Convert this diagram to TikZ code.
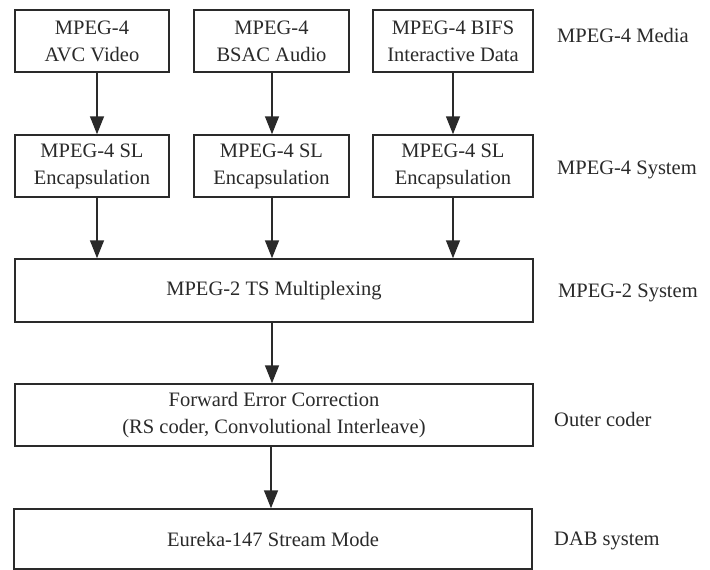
\documentclass[tikz,border=0pt]{standalone}
\usepackage{fontspec}
\setmainfont{Liberation Serif}
\usetikzlibrary{arrows.meta}
\definecolor{ink}{HTML}{2A2A2A}
\begin{document}
\begin{tikzpicture}[x=1pt,y=-1pt,
  blk/.style={draw=ink,line width=1.5pt,rectangle,inner sep=0pt,align=center,
    text=ink,font=\fontsize{20.5}{27}\selectfont},
  lbl/.style={anchor=west,inner sep=0pt,text=ink,font=\fontsize{20.5}{27}\selectfont},
  arr/.style={draw=ink,line width=1.5pt,-{Triangle[width=14pt,length=18pt]}}]
\useasboundingbox[fill=white] (0,0) rectangle (710,570);
% top row
\node[blk,minimum width=154pt,minimum height=62pt] (v) at (92,41) {MPEG-4\\AVC Video};
\node[blk,minimum width=155pt,minimum height=62pt] (a) at (271.5,41) {MPEG-4\\BSAC Audio};
\node[blk,minimum width=160pt,minimum height=62pt] (d) at (453,41) {MPEG-4 BIFS\\Interactive Data};
% SL row
\node[blk,minimum width=154pt,minimum height=62pt] (s1) at (92,166) {MPEG-4 SL\\Encapsulation};
\node[blk,minimum width=155pt,minimum height=62pt] (s2) at (271.5,166) {MPEG-4 SL\\Encapsulation};
\node[blk,minimum width=160pt,minimum height=62pt] (s3) at (453,166) {MPEG-4 SL\\Encapsulation};
% wide boxes
\node[blk,minimum width=518pt,minimum height=63pt] (mux) at (274,290.5) {MPEG-2 TS Multiplexing};
\node[blk,minimum width=518pt,minimum height=62pt] (fec) at (274,415) {Forward Error Correction\\(RS coder, Convolutional Interleave)};
\node[blk,minimum width=518pt,minimum height=60pt] (dab) at (273,539) {Eureka-147 Stream Mode};
% labels
\node[lbl] (l1) at (557,35) {MPEG-4 Media};
\node[lbl] (l2) at (557,170) {MPEG-4 System};
\node[lbl] (l3) at (558,293) {MPEG-2 System};
\node[lbl] (l4) at (554,419) {Outer coder};
\node[lbl] (l5) at (554,541) {DAB system};
% arrows
\draw[arr] ([xshift=5pt]v.south) -- ([xshift=5pt]s1.north);
\draw[arr] ([xshift=0.5pt]a.south) -- ([xshift=0.5pt]s2.north);
\draw[arr] (d.south) -- (s3.north);
\draw[arr] ([xshift=5pt]s1.south) -- ([xshift=5pt]s1.south |- mux.north);
\draw[arr] ([xshift=0.5pt]s2.south) -- ([xshift=0.5pt]s2.south |- mux.north);
\draw[arr] (s3.south) -- (s3.south |- mux.north);
\draw[arr] ([xshift=-2pt]mux.south) -- ([xshift=-2pt]mux.south |- fec.north);
\draw[arr] ([xshift=-3pt]fec.south) -- ([xshift=-3pt]fec.south |- dab.north);
\end{tikzpicture}
\end{document}
